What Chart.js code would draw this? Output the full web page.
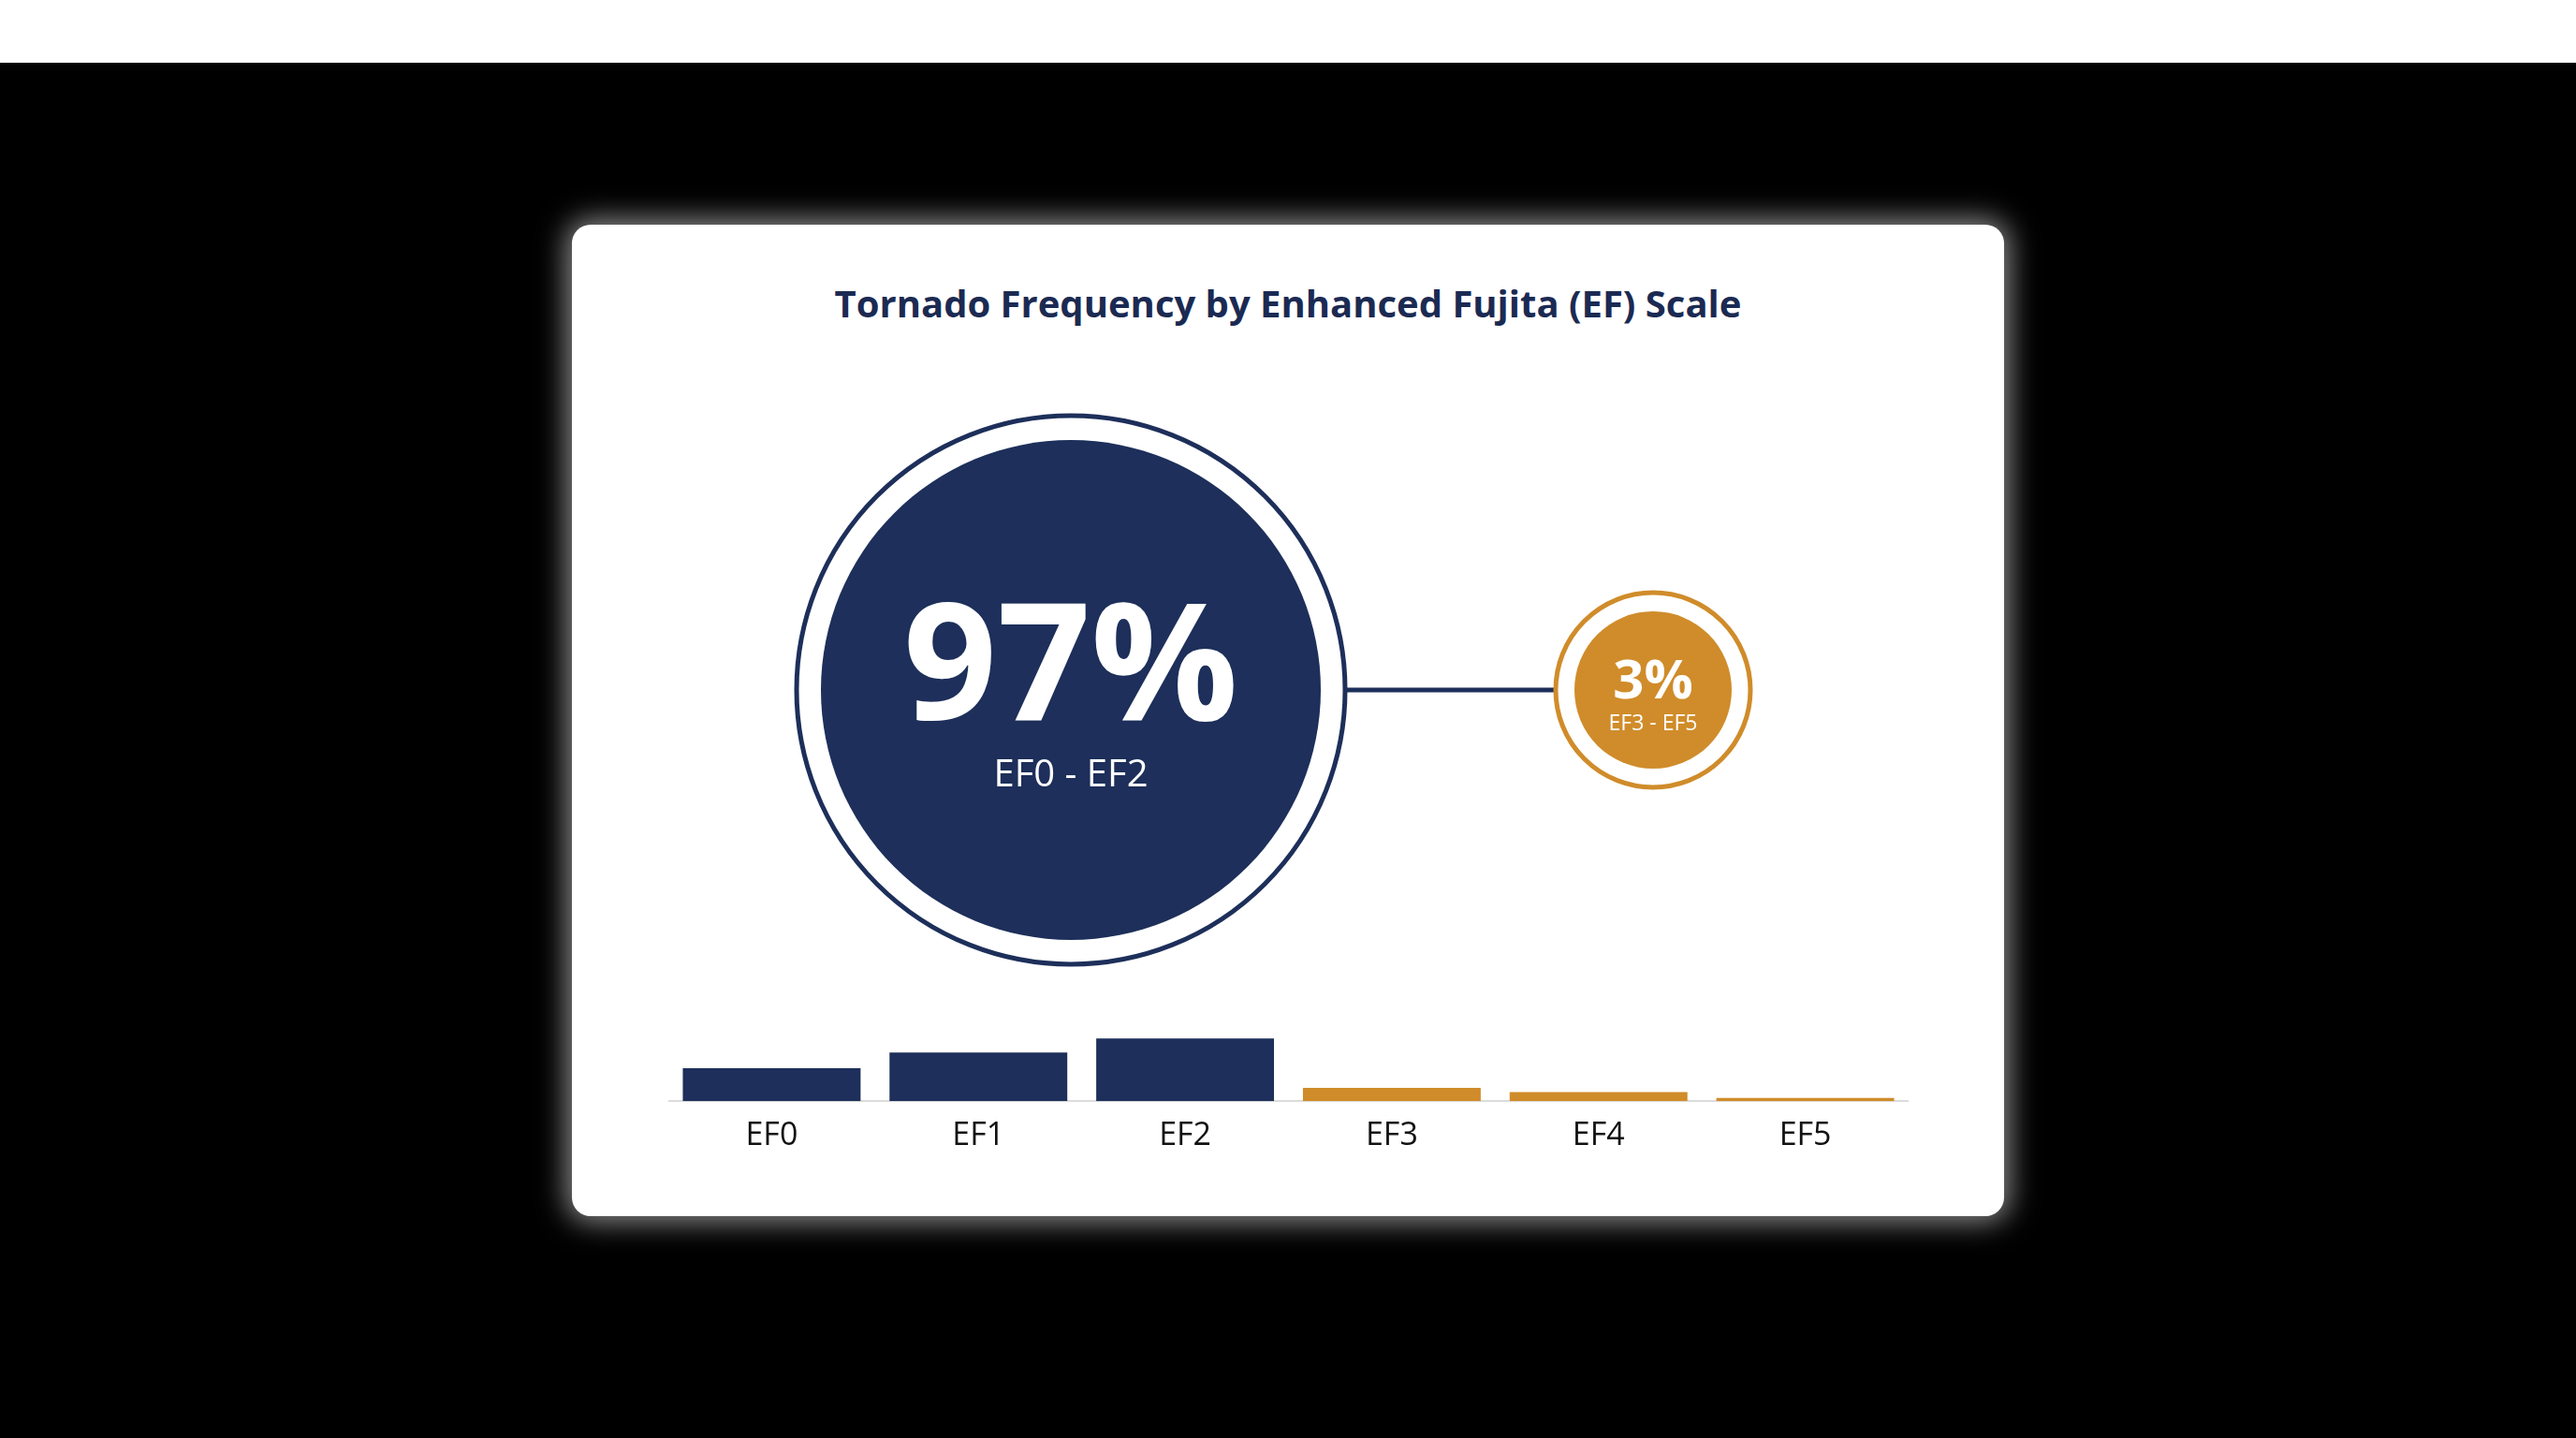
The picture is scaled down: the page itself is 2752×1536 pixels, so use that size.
<!DOCTYPE html>
<html>
<head>
<meta charset="utf-8">
<script src="https://cdn.jsdelivr.net/npm/chart.js@4/dist/chart.umd.min.js"></script>
<style>
  body { margin: 0; width: 2752px; height: 1536px; background: #000; position: relative; overflow: hidden; font-family: "Open Sans", Lato, sans-serif; }
  .topband { position: absolute; left: 0; top: 0; width: 2752px; height: 67px; background: #fff; }
  .card { position: absolute; left: 611px; top: 240px; width: 1530px; height: 1059px; background: #fff; border-radius: 20px;
          box-shadow: 0 0 30px 6px rgba(255,255,255,0.55); }
  .title { position: absolute; left: 611px; top: 296px; width: 1530px; text-align: center; color: #1b2a52;
           font: bold 40px "Open Sans", Lato, sans-serif; }
  canvas { position: absolute; }
</style>
</head>
<body>
<div class="topband"></div>
<div class="card"></div>
<div class="title">Tornado Frequency by Enhanced Fujita (EF) Scale</div>
<canvas id="circles" width="1866" height="640" style="left:522px;top:417px"></canvas>
<canvas id="bars" width="1325" height="155" style="left:714px;top:1088px"></canvas>
<script>
const NAVY = "#1d2f5a";
const GOLD = "#d08c2a";

// share of tornadoes: weak (EF0-EF2) vs strong (EF3-EF5)
const groupLabels = ["EF0 - EF2", "EF3 - EF5"];
const groupShares = [97, 3];
const groupColors = [NAVY, GOLD];

// relative frequency per EF rating
const efCategories = ["EF0", "EF1", "EF2", "EF3", "EF4", "EF5"];
const efValues = [40, 59, 76, 16, 11, 4];
const efColors = [NAVY, NAVY, NAVY, GOLD, GOLD, GOLD];

// draws the percentages inside the bubbles
const labelPlugin = {
  id: "bubbleLabels",
  afterDatasetsDraw(chart) {
    const ctx = chart.ctx;
    const pts = chart.getDatasetMeta(2).data;
    ctx.save();
    ctx.fillStyle = "#fff";
    ctx.textAlign = "center";
    ctx.textBaseline = "middle";
    pts.forEach((p, i) => {
      const big = i === 0;
      ctx.font = "bold " + (big ? 175 : 58) + "px 'Open Sans', Lato, sans-serif";
      ctx.fillText(groupShares[i] + "%", p.x, p.y + (big ? -18 : -8));
      ctx.font = (big ? 40 : 23) + "px 'Open Sans', Lato, sans-serif";
      ctx.fillText(groupLabels[i], p.x, p.y + (big ? 92 : 36));
    });
    ctx.restore();
  }
};

new Chart(document.getElementById("circles"), {
  type: "bubble",
  data: {
    datasets: [
      {
        type: "line",
        data: [{ x: 0, y: 0 }, { x: 1, y: 0 }],
        borderColor: NAVY, borderWidth: 5, pointRadius: 0, order: 3
      },
      {
        data: groupShares.map((s, i) => ({ x: i, y: 0, r: i === 0 ? 293 : 104 })),
        backgroundColor: "#fff",
        borderColor: groupColors, borderWidth: 5, order: 2
      },
      {
        data: groupShares.map((s, i) => ({ x: i, y: 0, r: i === 0 ? 267 : 84 })),
        backgroundColor: groupColors,
        borderWidth: 0, order: 1
      }
    ]
  },
  options: {
    responsive: false, devicePixelRatio: 1, animation: false,
    layout: { padding: 0, autoPadding: false },
    clip: false,
    plugins: { legend: { display: false }, tooltip: { enabled: false } },
    scales: {
      x: { type: "linear", min: -1, max: 2, display: false },
      y: { type: "linear", min: -1, max: 1, display: false }
    }
  },
  plugins: [labelPlugin]
});

new Chart(document.getElementById("bars"), {
  type: "bar",
  data: {
    labels: efCategories,
    datasets: [{ data: efValues, backgroundColor: efColors, barPercentage: 0.86, categoryPercentage: 1 }]
  },
  options: {
    responsive: false, devicePixelRatio: 1, animation: false,
    layout: { padding: 0 },
    plugins: { legend: { display: false }, tooltip: { enabled: false } },
    scales: {
      x: {
        grid: { display: false },
        border: { color: "#dcdcdc", width: 2 },
        ticks: { color: "#111", padding: 9, font: { size: 34, family: "'Open Sans', Lato, sans-serif" } }
      },
      y: { min: 0, max: 100, display: false }
    }
  }
});
</script>
</body>
</html>
